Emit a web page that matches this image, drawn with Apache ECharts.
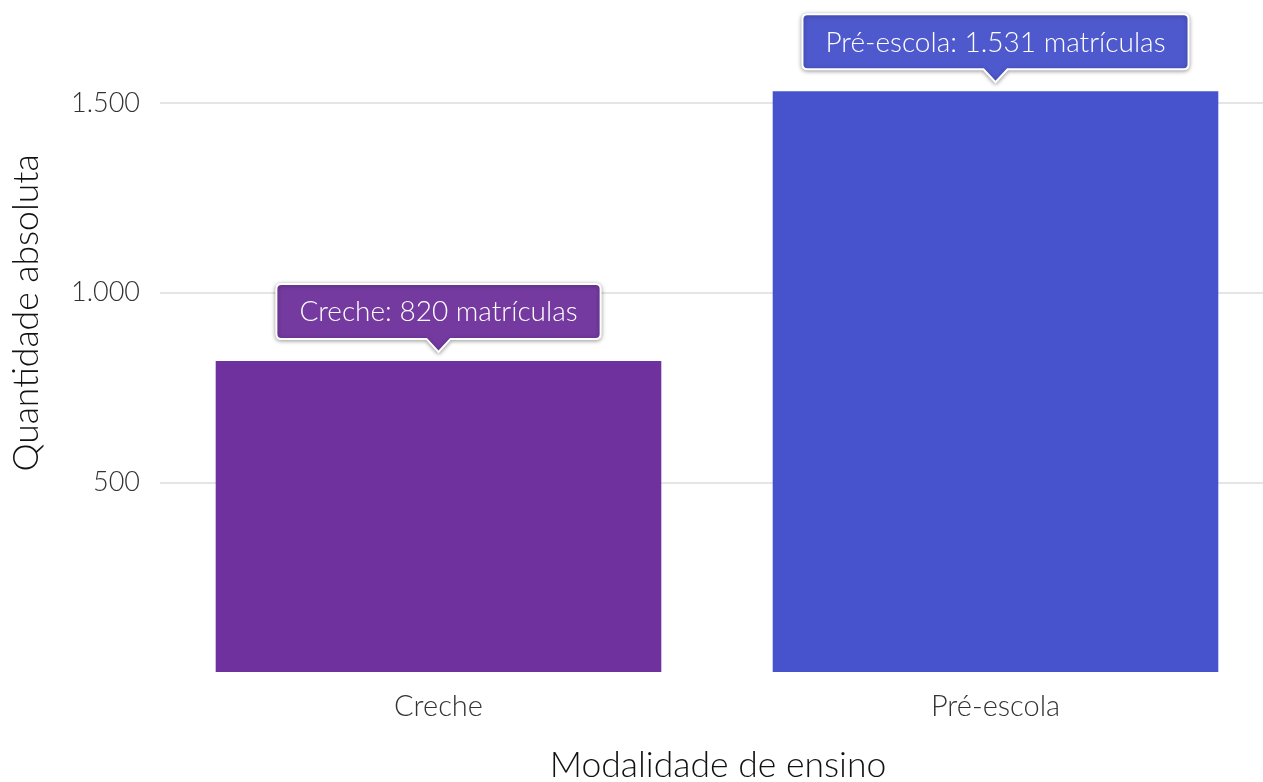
<!DOCTYPE html>
<html>
<head>
<meta charset="utf-8">
<script src="https://cdn.jsdelivr.net/npm/echarts@6/dist/echarts.min.js"></script>
<style>
html,body{margin:0;padding:0;background:#fff;}
#chart{width:1263px;height:782px;}
</style>
</head>
<body>
<div id="chart"></div>
<script>
const categories = ['Creche', 'Pré-escola'];
const values = [820, 1531];
const yTicks = [0, 500, 1000, 1500];
const barColors = ['#6F319D', '#4753CC'];
const calloutColors = ['#743AA0', '#4E59CD'];

function fmt(n) {
  return String(n).replace(/\B(?=(\d{3})+(?!\d))/g, '.');
}

const FONT = 'Lato';
const calloutFontSize = 28;
const measureCtx = document.createElement('canvas').getContext('2d');
function textWidth(t, size) {
  measureCtx.font = '300 ' + size + 'px ' + FONT;
  return measureCtx.measureText(t).width;
}

const chart = echarts.init(document.getElementById('chart'));

const option = {
  animation: false,
  backgroundColor: '#ffffff',
  grid: { left: 160, top: 103, width: 1114, height: 569, containLabel: false, outerBoundsMode: 'none' },
  xAxis: {
    type: 'category',
    data: categories,
    axisLine: { show: false },
    axisTick: { show: false },
    axisLabel: { fontFamily: FONT, fontWeight: 300, fontSize: 29, color: '#333', margin: 20 }
  },
  yAxis: {
    type: 'value',
    min: yTicks[0],
    max: yTicks[yTicks.length - 1],
    interval: 500,
    axisLine: { show: false },
    axisTick: { show: false },
    splitLine: { show: true, showMinLine: false, lineStyle: { color: '#dcdcdc', width: 1.5 } },
    axisLabel: {
      fontFamily: FONT, fontWeight: 300, fontSize: 27, color: '#333', margin: 20,
      formatter: v => (v === 0 ? '' : fmt(v))
    }
  },
  graphic: [
    {
      type: 'text', x: 27, y: 313, rotation: Math.PI / 2,
      style: { text: 'Quantidade absoluta', fontFamily: FONT, fontWeight: 300, fontSize: 35.5, fill: '#111', align: 'center', verticalAlign: 'middle' }
    },
    {
      type: 'text', x: 718, y: 766,
      style: { text: 'Modalidade de ensino', fontFamily: FONT, fontWeight: 300, fontSize: 35.5, fill: '#111', align: 'center', verticalAlign: 'middle' }
    }
  ],
  series: [
    {
      type: 'bar',
      data: values,
      barWidth: '80%',
      clip: false,
      itemStyle: { color: p => barColors[p.dataIndex] }
    },
    {
      type: 'custom',
      clip: false,
      data: values.map((v, i) => [i, v]),
      renderItem: function (params, api) {
        const i = api.value(0);
        const v = api.value(1);
        const pt = api.coord([i, v]);
        const cx = pt[0];
        const barTop = pt[1];
        const text = categories[i] + ': ' + fmt(v) + ' matrículas';
        const tw = textWidth(text, calloutFontSize);
        const w = tw + 46;
        const h = 55;
        const r = 5;
        const aw = 12;
        const by = barTop - 22;
        const tip = barTop - 9;
        const top = by - h;
        const L = cx - w / 2, R = cx + w / 2;
        const d = [
          'M', L + r, top,
          'L', R - r, top,
          'Q', R, top, R, top + r,
          'L', R, by - r,
          'Q', R, by, R - r, by,
          'L', cx + aw, by,
          'L', cx, tip,
          'L', cx - aw, by,
          'L', L + r, by,
          'Q', L, by, L, by - r,
          'L', L, top + r,
          'Q', L, top, L + r, top,
          'Z'
        ].join(' ');
        return {
          type: 'group',
          children: [
            {
              type: 'path',
              shape: { pathData: d, x: L, y: top, width: w, height: tip - top, layout: 'cover' },
              style: {
                fill: calloutColors[i], stroke: '#ffffff', lineWidth: 2,
                shadowBlur: 4, shadowColor: 'rgba(0,0,0,0.35)', shadowOffsetY: 1
              }
            },
            {
              type: 'text',
              style: {
                text: text, x: cx, y: top + h / 2 + 1, align: 'center', verticalAlign: 'middle',
                fill: '#ffffff', fontFamily: FONT, fontWeight: 300, fontSize: calloutFontSize
              }
            }
          ]
        };
      }
    }
  ]
};

chart.setOption(option);
</script>
</body>
</html>
